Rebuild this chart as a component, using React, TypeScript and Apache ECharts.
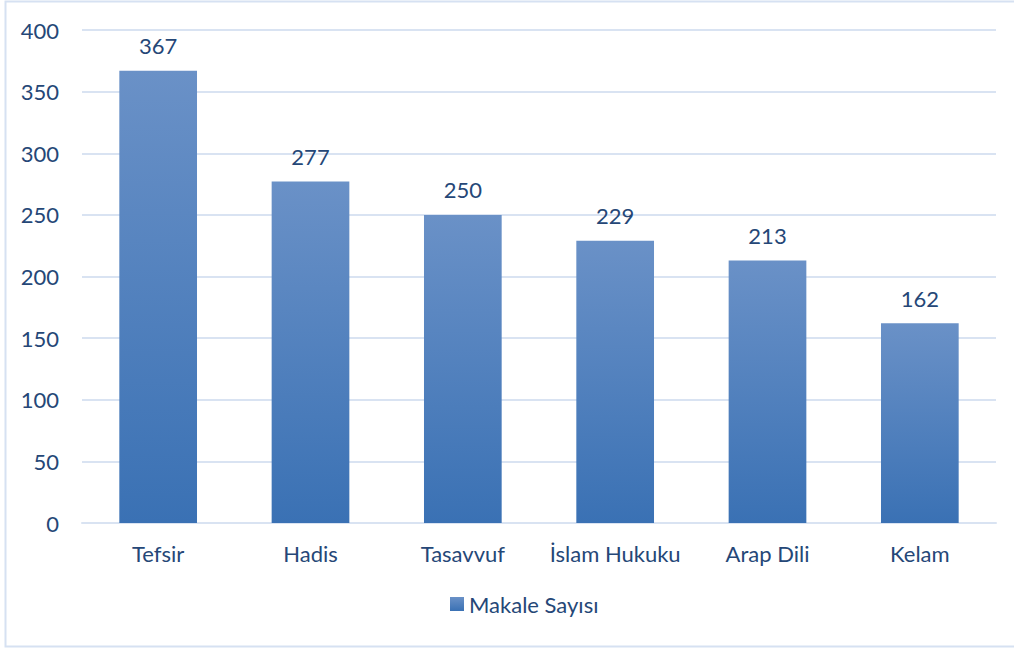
import React, { useEffect, useRef } from "react";
import * as echarts from "echarts";

const categories = ["Tefsir", "Hadis", "Tasavvuf", "İslam Hukuku", "Arap Dili", "Kelam"];
const values = [367, 277, 250, 229, 213, 162];
const seriesName = "Makale Sayısı";
const yTicks = { min: 0, max: 400, interval: 50 };

const textColor = "#254777";
const gridColor = "#d9e3f2";
const font = "Lato";
const fs = 22;

export default function App() {
  const ref = useRef<HTMLDivElement>(null);
  useEffect(() => {
    if (!ref.current) return;
    const chart = echarts.init(ref.current, undefined, { renderer: "svg" });
    const barGradient = new echarts.graphic.LinearGradient(0, 0, 0, 1, [
      { offset: 0, color: "#6a91c7" },
      { offset: 1, color: "#3a71b4" },
    ]);
    chart.setOption({
      animation: false,
      backgroundColor: "#ffffff",
      textStyle: { fontFamily: font },
      graphic: [
        {
          type: "rect",
          shape: { x: 5.5, y: 1.5, width: 1030, height: 645 },
          style: { fill: "none", stroke: "#d6e1f2", lineWidth: 2 },
          silent: true,
          z: 100,
        },
      ],
      grid: { left: 82, right: 18, top: 30, bottom: 127, containLabel: false },
      legend: {
        bottom: 30,
        left: 445,
        icon: "rect",
        itemWidth: 14,
        itemHeight: 14,
        itemGap: 10,
        textStyle: { color: textColor, fontSize: fs, fontFamily: font },
        data: [seriesName],
      },
      xAxis: {
        type: "category",
        data: categories,
        axisLine: { show: true, lineStyle: { color: gridColor, width: 2 } },
        axisTick: { show: false },
        axisLabel: { color: textColor, fontSize: fs, fontFamily: font, margin: 19, interval: 0 },
      },
      yAxis: {
        type: "value",
        min: yTicks.min,
        max: yTicks.max,
        interval: yTicks.interval,
        axisLine: { show: false },
        axisTick: { show: false },
        splitLine: { lineStyle: { color: gridColor, width: 2 } },
        axisLabel: { color: textColor, fontSize: fs, fontFamily: font, margin: 23 },
      },
      series: [
        {
          name: seriesName,
          type: "bar",
          data: values,
          barWidth: "51%",
          itemStyle: { color: barGradient },
          label: {
            show: true,
            position: "top",
            distance: 14,
            color: textColor,
            fontSize: fs,
            fontFamily: font,
          },
        },
      ],
    });
    return () => chart.dispose();
  }, []);
  return (
    <div
      ref={ref}
      style={{ position: "fixed", left: 0, top: 0, width: 1014, height: 650, background: "#fff" }}
    />
  );
}
